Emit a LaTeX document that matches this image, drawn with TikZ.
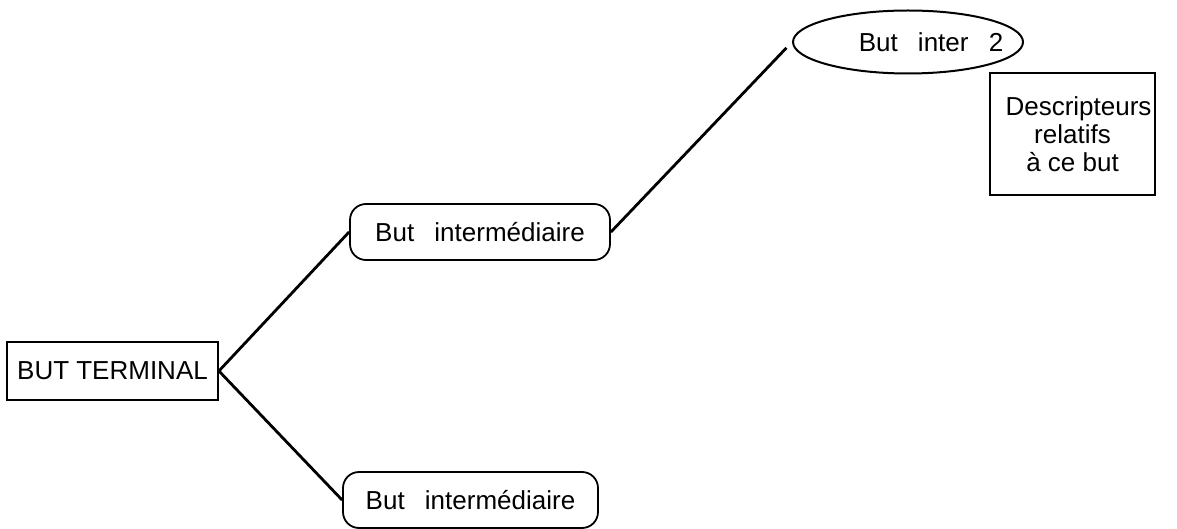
\documentclass[tikz,border=0pt]{standalone}
\usepackage{fontspec}
\setmainfont{Liberation Sans}
\usetikzlibrary{shapes.geometric}
\begin{document}
\begin{tikzpicture}[x=0.5pt, y=-0.5pt,
    every node/.style={font=\fontsize{13}{14}\selectfont, inner sep=0pt},
    boite/.style={draw, line width=0.9pt, rectangle},
    arrondi/.style={draw, line width=0.9pt, rounded corners=8pt, minimum height=28pt},
    lien/.style={line width=1.4pt}]
    \useasboundingbox (0,0) rectangle (1177,529);
    % Les buts
    \node[boite, minimum width=105.5pt, minimum height=29pt] (term) at (112.5,371) {BUT TERMINAL};
    \node[arrondi, minimum width=130pt] (haut) at (480,232) {But\hspace{0.5em} intermédiaire};
    \node[arrondi, minimum width=127.5pt] (bas) at (470.5,500) {But\hspace{0.5em} intermédiaire};
    \node[ellipse, draw, line width=1pt, minimum width=115pt, minimum height=31.5pt,
          label={[xshift=11.5pt]center:But\hspace{0.5em} inter\hspace{0.5em} 2}] (inter2) at (908,42) {};
    \node[boite, minimum width=82.5pt, minimum height=61pt, align=center] (desc) at (1072.5,134)
        {\hspace{6pt}Descripteurs\\relatifs\\à ce but};
    
    % Les liens
    \draw[lien] (term.east) -- (haut.west);
    \draw[lien] (term.east) -- (bas.west);
    \draw[lien, shorten >=4pt] (haut.east) -- (inter2.west);
\end{tikzpicture}
\end{document}
